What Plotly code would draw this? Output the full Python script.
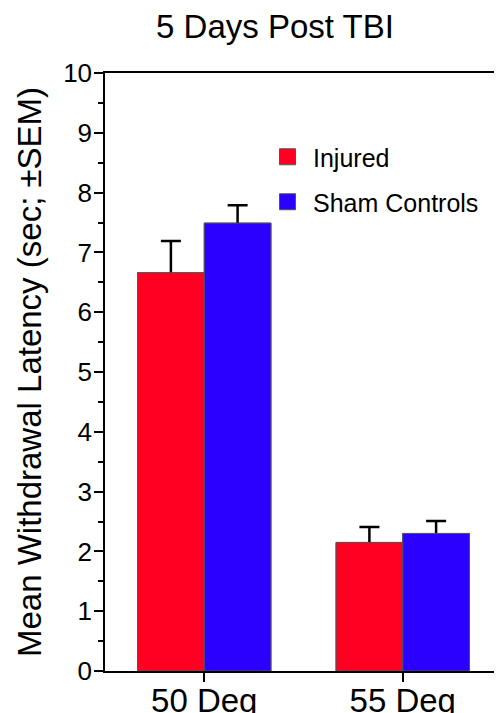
import plotly.graph_objects as go

# ---- data ----
categories = ["50 Deg", "55 Deg"]
series_names = ["Injured", "Sham Controls"]
injured = [6.66, 2.15]
injured_sem = [0.53, 0.26]
sham = [7.49, 2.30]
sham_sem = [0.30, 0.21]
y_tick_values = [0, 1, 2, 3, 4, 5, 6, 7, 8, 9, 10]
title_text = "5 Days Post TBI"
y_title = "Mean Withdrawal Latency (sec; ±SEM)"

# ---- style ----
RED = "#FF0022"
BLUE = "#2B00FF"
OUTLINE = "#555555"
FONT = "Liberation Sans, Arial, Helvetica, sans-serif"
BW = 0.336
# the page body has an 8px default margin; the figure is sized to compensate
FIG_W, FIG_H = 494, 705

fig = go.Figure()

series = [
    (series_names[0], injured, injured_sem, RED, -BW, "legend"),
    (series_names[1], sham, sham_sem, BLUE, 0.0, "legend2"),
]

# bars carrying the (upper) error bars; lower arm reaches the axis and is hidden by cover bars
for name, vals, sem, col, off, lg in series:
    fig.add_trace(go.Bar(
        x=categories, y=vals, name=name, showlegend=False,
        width=BW, offset=off,
        marker=dict(color=col, line=dict(color=OUTLINE, width=1)),
        error_y=dict(type="data", symmetric=False, array=sem, arrayminus=vals,
                     color="black", thickness=2.5, width=10),
    ))
# cover bars (hide the lower part of the error bar)
for name, vals, sem, col, off, lg in series:
    fig.add_trace(go.Bar(
        x=categories, y=vals, name=name, showlegend=False,
        width=BW, offset=off,
        marker=dict(color=col, line=dict(color=OUTLINE, width=1)),
    ))
# legend entries
for name, vals, sem, col, off, lg in series:
    fig.add_trace(go.Scatter(
        x=[None], y=[None], mode="markers", name=name, legend=lg,
        marker=dict(symbol="square", size=18, color=col, line=dict(color=OUTLINE, width=1)),
    ))

legend_common = dict(
    font=dict(family=FONT, size=25, color="black"),
    bgcolor="rgba(0,0,0,0)", borderwidth=0,
    xanchor="left", yanchor="middle", itemwidth=41,
)

fig.update_layout(
    width=FIG_W, height=FIG_H,
    margin=dict(l=97, r=0, t=65, b=42),
    paper_bgcolor="white", plot_bgcolor="white",
    barmode="overlay",
    font=dict(family=FONT, color="black"),
    title=dict(text=title_text, font=dict(family=FONT, size=33, color="black"),
               x=267 / FIG_W, xanchor="center", y=1 - 18.5 / FIG_H, yanchor="middle",
               xref="container", yref="container"),
    legend=dict(x=0.3955, y=(671 - 157) / 598, **legend_common),
    legend2=dict(x=0.3955, y=(671 - 202) / 598, **legend_common),
    xaxis=dict(
        type="category", range=[-0.5, 1.5],
        showline=True, linecolor="black", linewidth=1.5, mirror=True,
        ticks="outside", ticklen=9, tickwidth=1.5, tickcolor="black",
        tickfont=dict(family=FONT, size=33, color="black"),
        ticklabelstandoff=-9,
        showgrid=False, zeroline=False, automargin=False,
    ),
    yaxis=dict(
        range=[0, 10], tickvals=y_tick_values,
        showline=True, linecolor="black", linewidth=1.5,
        ticks="outside", ticklen=9, tickwidth=1.5, tickcolor="black",
        tickfont=dict(family=FONT, size=26, color="black"),
        ticklabelstandoff=-3,
        minor=dict(dtick=0.5, tick0=0, ticks="outside", ticklen=5, tickwidth=1.5,
                   tickcolor="black", showgrid=False),
        showgrid=False, zeroline=False, automargin=False,
        title=dict(text=y_title, font=dict(family=FONT, size=33, color="black"), standoff=12),
    ),
)

fig.write_html("out.html")
